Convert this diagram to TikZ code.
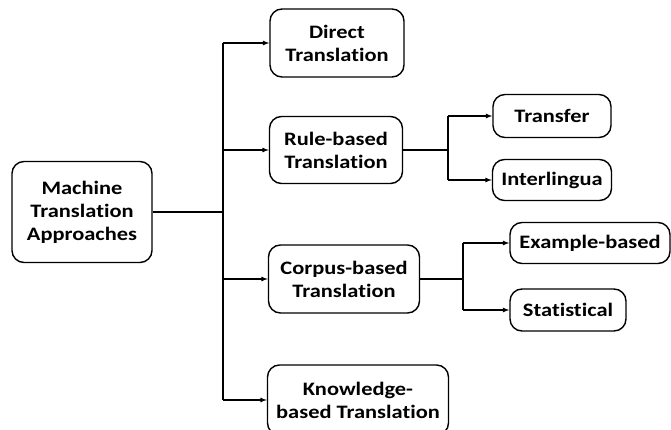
\documentclass[tikz,border=0pt]{standalone}
\usepackage{fontspec}
\setmainfont{Carlito}[FakeStretch=1.18,Ligatures=CommonOff]
\usetikzlibrary{positioning,shapes,arrows}

\begin{document}
\begin{tikzpicture}
  [x=1pt,y=-1pt,>=latex,
   every node/.style={draw, rounded corners=12pt, line width=1.4pt, align=center, inner sep=0pt,
     font=\bfseries\fontsize{19}{23}\selectfont},
   link/.style={line width=1.2pt}]
  \useasboundingbox (0,0) rectangle (671,430);

  \node[minimum width=140pt, minimum height=101pt] (mt) at (82,212) {Machine\\Translation\\Approaches};

  \node[minimum width=134pt, minimum height=68pt] (dt) at (337,43) {Direct\\Translation};
  \node[minimum width=133pt, minimum height=67pt] (rb) at (336,150) {Rule-based\\Translation};
  \node[minimum width=151pt, minimum height=68pt] (cb) at (344,279) {Corpus-based\\Translation};
  \node[minimum width=181pt, minimum height=70pt] (kb) at (358,400) {Knowledge-\\based Translation};

  \node[minimum width=118pt, minimum height=43pt] (tr) at (552,116) {Transfer};
  \node[minimum width=119pt, minimum height=41pt] (il) at (552,180) {Interlingua};
  \node[minimum width=160pt, minimum height=41pt] (eb) at (590,243) {Example-based};
  \node[minimum width=116pt, minimum height=42pt] (st) at (568,310) {Statistical};

  \coordinate (trunk) at (223,212);
  \coordinate (rbfork) at (448,150);
  \coordinate (cbfork) at (463,279);

  \draw[link] (mt.east) -- (trunk);
  \draw[link] (trunk |- dt.west) -- (trunk |- kb.west);
  \foreach \to in {dt, rb, cb, kb}
    \draw[link,->] (trunk |- \to.west) -- (\to.west);

  \draw[link] (rb.east) -- (rbfork);
  \draw[link] (rbfork |- tr.west) -- (rbfork |- il.west);
  \foreach \to in {tr, il}
    \draw[link,->] (rbfork |- \to.west) -- (\to.west);

  \draw[link] (cb.east) -- (cbfork);
  \draw[link] (cbfork |- eb.west) -- (cbfork |- st.west);
  \foreach \to in {eb, st}
    \draw[link,->] (cbfork |- \to.west) -- (\to.west);
\end{tikzpicture}
\end{document}
